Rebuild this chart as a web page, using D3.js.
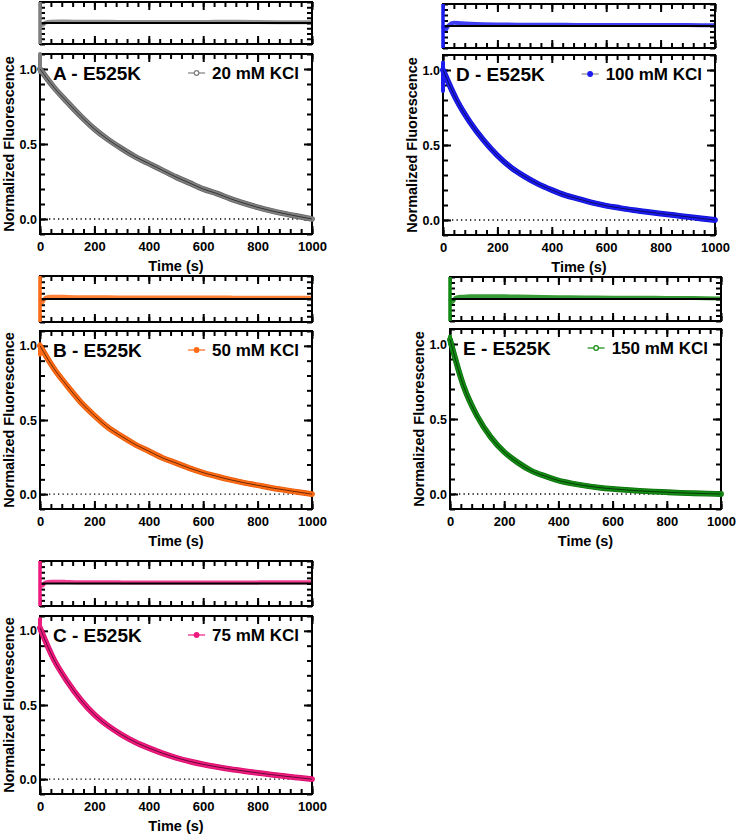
<!DOCTYPE html>
<html><head><meta charset="utf-8">
<script src="https://cdn.jsdelivr.net/npm/d3@7"></script>
<style>
body{margin:0;background:#fff}
svg{display:block}
text{font-family:"Liberation Sans",Arial,Helvetica,sans-serif;font-weight:bold;fill:#000}
</style>
</head><body>
<svg id="chart" width="736" height="835"></svg>
<script>
// ---------- data ----------
const timeS = [0,50,100,150,200,250,300,350,400,450,500,550,600,650,700,750,800,850,900,950,1000];
const fluorA = [1.00,0.88,0.78,0.685,0.60,0.53,0.47,0.415,0.37,0.325,0.28,0.24,0.20,0.17,0.135,0.105,0.078,0.055,0.035,0.017,0.0];
const fluorB = [1.00,0.85,0.73,0.62,0.53,0.45,0.39,0.335,0.29,0.245,0.21,0.175,0.145,0.12,0.097,0.077,0.06,0.043,0.028,0.014,0.0];
const fluorC = [1.02,0.81,0.66,0.535,0.435,0.36,0.30,0.25,0.21,0.175,0.145,0.12,0.10,0.083,0.068,0.055,0.043,0.031,0.02,0.01,0.0];
const fluorD = [1.00,0.80,0.65,0.53,0.43,0.35,0.29,0.24,0.20,0.165,0.14,0.115,0.095,0.08,0.066,0.054,0.043,0.032,0.021,0.01,0.0];
const fluorE = [1.03,0.72,0.52,0.38,0.28,0.21,0.155,0.12,0.09,0.07,0.055,0.043,0.034,0.027,0.021,0.016,0.012,0.008,0.005,0.002,0.0];
// spread of the very first readings at t = 0 (min, max)
const startA = [0.98,1.10];
const startB = [0.94,1.01];
const startC = [1.00,1.08];
const startD = [0.86,1.05];
const startE = [1.00,1.05];
// residuals (arbitrary units, box spans -1..1)
const residTimeS = [0,8,20,40,70,100,150,200,300,400,500,600,700,800,900,1000];
const residA = [0.0,-0.10,0.02,0.06,0.07,0.07,0.06,0.06,0.05,0.05,0.05,0.05,0.06,0.05,0.04,0.04];
const residB = [0.0,-0.15,0.05,0.10,0.10,0.09,0.08,0.08,0.07,0.07,0.06,0.06,0.06,0.05,0.05,0.05];
const residC = [0.0,-0.10,0.05,0.08,0.08,0.07,0.06,0.06,0.05,0.05,0.05,0.05,0.05,0.05,0.06,0.06];
const residD = [0.0,-0.20,0.02,0.15,0.12,0.10,0.08,0.07,0.06,0.06,0.05,0.05,0.05,0.05,0.04,0.03];
const residE = [0.0,-0.15,0.05,0.10,0.12,0.13,0.13,0.12,0.10,0.08,0.07,0.06,0.06,0.05,0.05,0.02];
const titles = ["A - E525K","B - E525K","C - E525K","D - E525K","E - E525K"];
const legendLabels = ["20 mM KCl","50 mM KCl","75 mM KCl","100 mM KCl","150 mM KCl"];
const xTickValues = [0,200,400,600,800,1000];
const yTickValues = [0,0.5,1.0];
const yTickLabels = ["0.0","0.5","1.0"];
const xTitle = "Time (s)";
const yTitle = "Normalized Fluorescence";

// ---------- layout ----------
const panels = [
  {fluor:fluorA,start:startA,resid:residA,x0:40,x1:312,rt:2,rb:44,mt:54,mb:234,col:"#7f7f7f",edge:"#606060",hollow:true},
  {fluor:fluorB,start:startB,resid:residB,x0:40,x1:312,rt:276,rb:322,mt:331,mb:509,col:"#ff6a14",edge:"#e85a08",hollow:false},
  {fluor:fluorC,start:startC,resid:residC,x0:40,x1:312,rt:561,rb:606,mt:616,mb:794,col:"#ee1a7e",edge:"#d80e6c",hollow:false},
  {fluor:fluorD,start:startD,resid:residD,x0:443,x1:715,rt:4,rb:48,mt:55,mb:235,col:"#1c1cf0",edge:"#1010d0",hollow:false},
  {fluor:fluorE,start:startE,resid:residE,x0:450,x1:721,rt:277,rb:321,mt:329,mb:509,col:"#138a13",edge:"#0d700d",hollow:true}
];

const svg = d3.select("#chart");
const xMinorVals = d3.range(0,1001,40);
const yMinorVals = d3.range(-1,12).map(d=>d/10);
const resMinorVals = d3.range(-1,1.01,0.25);

// inward tick marks on all four sides, drawn with d3 axes
function tickAxis(axisFn, scale, vals, len, tx, ty){
  const g = svg.append("g").attr("transform",`translate(${tx},${ty})`)
    .call(axisFn(scale).tickValues(vals).tickSize(-len).tickFormat(()=>""));
  g.select(".domain").remove();
  g.selectAll(".tick line").attr("stroke","#000").attr("stroke-width",2);
}
function drawFrame(xs, ys, xMinor, xMajor, yMinor, yMajor, majLen, minLen){
  const xa = xs.range()[0], xb = xs.range()[1];
  const yb = ys.range()[0], ya = ys.range()[1];
  [[xMinor,minLen],[xMajor,majLen]].forEach(([v,l])=>{
    tickAxis(d3.axisBottom, xs, v, l, 0, yb);
    tickAxis(d3.axisTop, xs, v, l, 0, ya);
  });
  [[yMinor,minLen]].concat(yMajor?[[yMajor,majLen]]:[]).forEach(([v,l])=>{
    tickAxis(d3.axisLeft, ys, v, l, xa, 0);
    tickAxis(d3.axisRight, ys, v, l, xb, 0);
  });
  svg.append("rect").attr("x",xa).attr("y",ya).attr("width",xb-xa).attr("height",yb-ya)
    .attr("fill","none").attr("stroke","#000").attr("stroke-width",2);
}

panels.forEach((pn,i)=>{
  const x = d3.scaleLinear().domain([0,1000]).range([pn.x0,pn.x1]);
  // ----- residual box -----
  const yr = d3.scaleLinear().domain([-1,1]).range([pn.rb,pn.rt]);
  const resLine = d3.line().x((d,j)=>x(residTimeS[j])).y(d=>yr(d)).curve(d3.curveMonotoneX);
  svg.append("path").datum(pn.resid).attr("d",resLine).attr("fill","none")
    .attr("stroke",pn.col).attr("stroke-width",4).attr("stroke-opacity",0.85);
  svg.append("line").attr("x1",x(0)).attr("x2",x(1000)).attr("y1",yr(0)).attr("y2",yr(0))
    .attr("stroke","#000").attr("stroke-width",1.8);
  drawFrame(x, yr, xMinorVals, xTickValues, resMinorVals, null, 8, 5);
  svg.append("line").attr("x1",x(residTimeS[0])).attr("x2",x(residTimeS[0])).attr("y1",yr(-1)).attr("y2",yr(1))
    .attr("stroke",pn.col).attr("stroke-width",3.5);

  // ----- main plot -----
  const y = d3.scaleLinear().domain([-0.1,1.1]).range([pn.mb,pn.mt]);
  svg.append("line").attr("x1",x(0)).attr("x2",x(1000)).attr("y1",y(0)).attr("y2",y(0))
    .attr("stroke","#000").attr("stroke-width",1.3).attr("stroke-dasharray","1.3,3.2");
  drawFrame(x, y, xMinorVals, xTickValues, yMinorVals, yTickValues, 8, 5);
  // tick labels
  const gxl = svg.append("g").attr("transform",`translate(0,${pn.mb})`)
    .call(d3.axisBottom(x).tickValues(xTickValues).tickSize(0).tickPadding(8).tickFormat(d3.format("d")));
  gxl.select(".domain").remove();
  gxl.selectAll("text").style("font-size","13px").style("font-family","'Liberation Sans',Arial,sans-serif").style("font-weight","bold");
  const gyl = svg.append("g").attr("transform",`translate(${pn.x0},0)`)
    .call(d3.axisLeft(y).tickValues(yTickValues).tickSize(0).tickPadding(3).tickFormat((d,j)=>yTickLabels[j]));
  gyl.select(".domain").remove();
  gyl.selectAll("text").style("font-size","12.5px").style("font-family","'Liberation Sans',Arial,sans-serif").style("font-weight","bold");
  // data band + fit
  const line = d3.line().x((d,j)=>x(timeS[j])).y(d=>y(d)).curve(d3.curveMonotoneX);
  svg.append("path").datum(pn.fluor).attr("d",line).attr("fill","none").attr("stroke",pn.edge).attr("stroke-width",5.8).attr("stroke-linecap","round");
  svg.append("path").datum(pn.fluor).attr("d",line).attr("fill","none").attr("stroke",pn.col).attr("stroke-width",4.4).attr("stroke-linecap","round");
  svg.append("line").attr("x1",x(0)).attr("x2",x(0)).attr("y1",y(pn.start[0])).attr("y2",y(pn.start[1]))
    .attr("stroke",pn.col).attr("stroke-width",4).attr("stroke-linecap","round");
  svg.append("path").datum(pn.fluor).attr("d",line).attr("fill","none").attr("stroke","#000").attr("stroke-width",0.8).attr("stroke-opacity",0.75);

  // title and legend
  svg.append("text").attr("x",pn.x0+13).attr("y",pn.mt+26).style("font-size","19px").text(titles[i]);
  const lt = svg.append("text").attr("x",pn.x1-13).attr("y",pn.mt+25).attr("text-anchor","end").style("font-size","17px").text(legendLabels[i]);
  const tw = lt.node().getComputedTextLength();
  const lx = pn.x1-13-tw;
  const ly = pn.mt+19;
  svg.append("line").attr("x1",lx-24).attr("x2",lx-7).attr("y1",ly).attr("y2",ly).attr("stroke",i===3?"#888":pn.col).attr("stroke-width",1.2);
  svg.append("circle").attr("cx",lx-15.5).attr("cy",ly).attr("r",2.3)
    .attr("fill",pn.hollow?"#fff":pn.col).attr("stroke",pn.col).attr("stroke-width",1.2);

  // axis titles
  svg.append("text").attr("x",(pn.x0+pn.x1)/2).attr("y",pn.mb+37).attr("text-anchor","middle").style("font-size","14.5px").text(xTitle);
  svg.append("text").attr("transform",`translate(${pn.x0-26},${(pn.mt+pn.mb)/2}) rotate(-90)`).attr("text-anchor","middle").style("font-size","14.5px").text(yTitle);
});
</script>
</body></html>
